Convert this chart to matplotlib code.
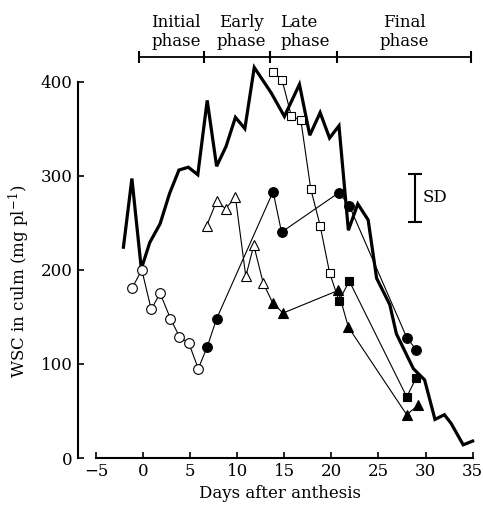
import matplotlib
matplotlib.use('Agg')
import matplotlib.pyplot as plt

plt.rcParams.update({
    'font.family': ['DejaVu Serif'],
    'mathtext.fontset': 'dejavuserif',
    'font.size': 12,
})

# ── data ──
thick_day = [-2.1, -1.2, -0.2, 0.7, 1.8, 2.8, 3.8, 4.8, 5.8, 6.8, 7.8, 8.8, 9.8,
             10.8, 11.8, 13.6, 15.0, 16.6, 17.7, 18.8, 19.8, 20.8, 21.8, 22.8,
             23.9, 24.8, 26.2, 26.9, 28.7, 29.9, 31.0, 32.0, 32.7, 34.0, 35.0]
thick_wsc = [224, 297, 201, 229, 249, 281, 306, 309, 301, 380, 310, 331, 362,
             350, 415, 388, 363, 397, 343, 367, 340, 353, 242, 270,
             253, 191, 163, 132, 95, 83, 41, 46, 37, 14, 18]

circ_open_day = [-1.15, -0.15, 0.85, 1.8, 2.9, 3.85, 4.85, 5.85]
circ_open_wsc = [181, 200, 158, 175, 148, 129, 122, 95]
circ_fill_day = [6.8, 7.8, 13.8, 14.7, 20.8, 21.9, 28.0, 29.0]
circ_fill_wsc = [118, 148, 283, 240, 282, 268, 128, 115]

tri_open_day = [6.75, 7.8, 8.75, 9.8, 10.9, 11.75, 12.75]
tri_open_wsc = [247, 273, 265, 277, 193, 226, 186]
tri_fill_day = [13.75, 14.85, 20.7, 21.8, 28.0, 29.2]
tri_fill_wsc = [165, 154, 178, 139, 46, 56]

sq_open_day = [13.75, 14.75, 15.75, 16.75, 17.8, 18.8, 19.8]
sq_open_wsc = [410, 402, 363, 359, 286, 247, 197]
sq_fill_day = [20.8, 21.9, 28.0, 29.0]
sq_fill_wsc = [167, 188, 65, 85]

phase_edges = [-0.4, 6.5, 13.5, 20.6, 34.8]
phase_labels = ['Initial\nphase', 'Early\nphase', 'Late\nphase', 'Final\nphase']
phase_centers = [3.5, 10.4, 17.2, 27.7]

sd_day = 28.85
sd_range = [251, 302]

fig = plt.figure(figsize=(4.83, 5.11), dpi=100)
ax = fig.add_axes([0.162, 0.1037, 0.836, 0.884])
ax.set_xlim(-6.9, 36.0)
ax.set_ylim(0, 480)

# thick line
ax.plot(thick_day, thick_wsc, color='black', lw=2.3, zorder=3,
        solid_joinstyle='miter')

# thin series: open markers first, filled later, one connecting line
series = [
    ('o', circ_open_day, circ_open_wsc, circ_fill_day, circ_fill_wsc, 7),
    ('^', tri_open_day, tri_open_wsc, tri_fill_day, tri_fill_wsc, 7),
    ('s', sq_open_day, sq_open_wsc, sq_fill_day, sq_fill_wsc, 6),
]
for m, od, ow, fd, fw, ms in series:
    ax.plot(od + fd, ow + fw, color='black', lw=0.8, zorder=2)
    ax.plot(od, ow, ls='none', marker=m, ms=ms, mfc='white', mec='black',
            mew=0.8, zorder=4)
    ax.plot(fd, fw, ls='none', marker=m, ms=ms, mfc='black', mec='black',
            mew=0.8, zorder=4)

# SD bar
ax.errorbar([sd_day], [sum(sd_range) / 2], yerr=[[(sd_range[1] - sd_range[0]) / 2]],
            fmt='none', ecolor='black', elinewidth=1.5, capsize=5, capthick=1.5)
ax.text(sd_day + 0.8, sum(sd_range) / 2, 'SD', ha='left', va='center', fontsize=12)

# phase bar on top
ax.plot([phase_edges[0], phase_edges[-1]], [426, 426], color='black', lw=1.3,
        clip_on=False)
ax.plot(phase_edges, [426] * len(phase_edges), ls='none', marker='|', ms=9,
        mew=1.5, color='black', clip_on=False)
for c, lab in zip(phase_centers, phase_labels):
    ma = 'left' if lab.startswith('Late') else 'center'
    ax.text(c, 434, lab, ha='center', va='bottom', multialignment=ma,
            fontsize=12, linespacing=1.1)

# axes styling
for s in ['top', 'right']:
    ax.spines[s].set_visible(False)
ax.spines['left'].set_bounds(0, 400)
ax.spines['bottom'].set_bounds(-5, 35)
ax.spines['left'].set_linewidth(1.5)
ax.spines['bottom'].set_linewidth(1.5)
ax.set_xticks(range(-5, 36, 5))
ax.set_xticklabels(['\u22125'] + [str(v) for v in range(0, 36, 5)])
ax.set_yticks(range(0, 401, 100))
ax.tick_params(direction='in', length=4, width=1.2, labelsize=12)
ax.tick_params(axis='y', pad=4)
ax.set_xlabel('Days after anthesis', fontsize=12, labelpad=4)
ax.set_ylabel('WSC in culm (mg pl$^{-1}$)', fontsize=12)
ax.yaxis.set_label_coords(-0.115, 0.39)

fig.savefig('out.png', dpi=100)
